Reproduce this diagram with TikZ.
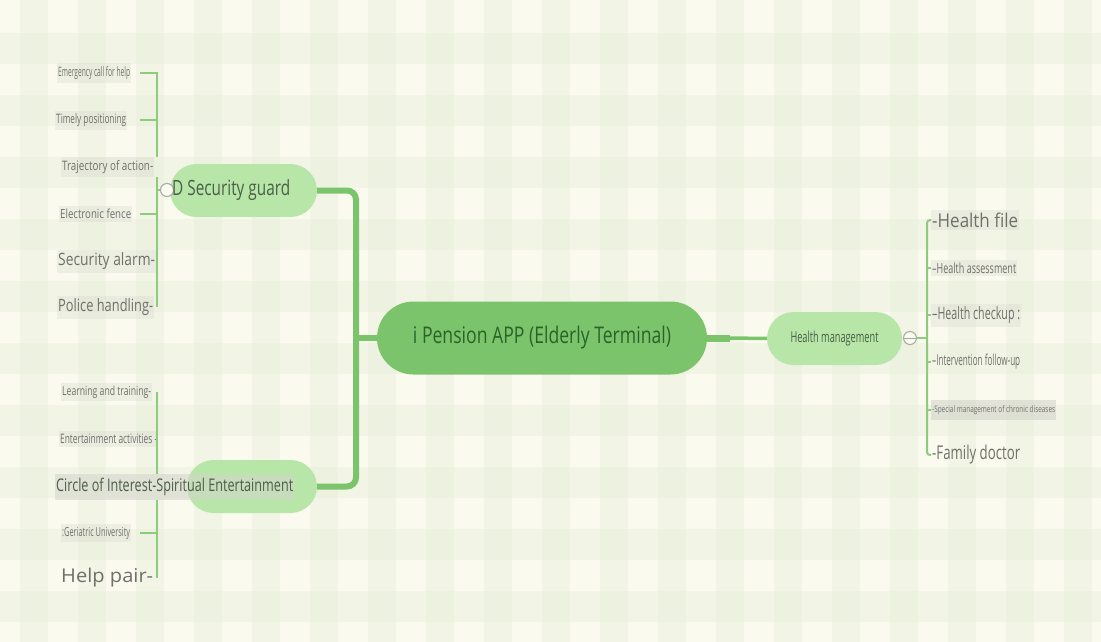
\documentclass[tikz,border=0pt]{standalone}
\usepackage{fontspec}
\usepackage{graphicx}
\setmainfont{Open Sans}
\usetikzlibrary{shapes.misc}
\definecolor{bgcream}{RGB}{250,251,238}
\definecolor{plaidgreen}{RGB}{226,234,210}
\definecolor{ctrgreen}{RGB}{124,196,108}
\definecolor{ctrtext}{RGB}{40,100,40}
\definecolor{pillgreen}{RGB}{184,230,168}
\definecolor{pilltext}{RGB}{75,95,72}
\definecolor{twiggreen}{RGB}{140,204,124}
\definecolor{leafgray}{RGB}{112,112,106}
\definecolor{hlgray}{RGB}{212,212,204}
\newcommand\fitw[2]{\resizebox{#1pt}{\height}{#2}}
\tikzset{
  plaidband/.style={fill=plaidgreen,opacity=.3},
  pill/.style={rounded rectangle,fill=pillgreen,draw=none,minimum height=53pt,inner sep=0pt},
  leaf/.style={anchor=west,inner xsep=1pt,inner ysep=3pt,fill=hlgray,fill opacity=.3,text opacity=1,text=leafgray},
  trunk/.style={draw=ctrgreen,line width=6pt},
  twig/.style={draw=twiggreen,line width=2pt},
  fold/.style={circle,draw=gray!70,line width=1pt,minimum size=13pt,inner sep=0pt,fill=bgcream}
}
\begin{document}
\begin{tikzpicture}[x=1pt,y=-1pt]
\path[use as bounding box,fill=bgcream] (0,0) rectangle (1101,642);
% checked backdrop
\foreach \x in {0,58,...,1100} \fill[plaidband] (\x+20,0) rectangle (\x+48,642);
\foreach \y in {0,62,...,640} \fill[plaidband] (0,\y+33) rectangle (1101,\y+64);
% root
\node[pill,fill=ctrgreen,minimum width=330pt,minimum height=73pt,text=ctrtext,font=\fontsize{23}{26}\selectfont] (ctr) at (542,338) {\fitw{258}{i Pension APP (Elderly Terminal)}};
% main branches
\node[pill,minimum width=147pt] (sec) at (243.5,190.5) {};
\node[pill,minimum width=130pt] (ent) at (252,486.5) {};
\node[pill,minimum width=135pt,text=pilltext,font=\fontsize{15}{17}\selectfont] (hm) at (834.5,338.5) {\fitw{88}{Health management}};
\coordinate (lbus) at (356,338);
\coordinate (knob) at (730,338);
\draw[trunk,rounded corners=9pt] (sec.east) -| (lbus) |- (ent.east);
\draw[trunk] (ctr.west) -- (lbus);
\draw[trunk,line width=7pt] (ctr.east) -- (knob);
\draw[trunk,line width=3.5pt] (knob) -- (hm.west);
% security guard
\node[fold] (secf) at (167,190) {};
\node[anchor=west,inner sep=0pt,text=pilltext,font=\fontsize{21}{24}\selectfont] (sectx) at (172,190) {\fitw{118}{D Security guard}};
\node[leaf,font=\fontsize{13}{15}\selectfont] (emg) at (57,73) {\fitw{72}{Emergency call for help}};
\node[leaf,font=\fontsize{13}{15}\selectfont] (tim) at (55,120) {\fitw{70}{Timely positioning}};
\node[leaf,font=\fontsize{13}{15}\selectfont] (tra) at (61,167) {\fitw{91}{Trajectory of action-}};
\node[leaf,font=\fontsize{12.5}{15}\selectfont] (ele) at (59,214) {\fitw{71}{Electronic fence}};
\node[leaf,font=\fontsize{17}{20}\selectfont] (alm) at (57,261) {\fitw{97}{Security alarm-}};
\node[leaf,font=\fontsize{17}{20}\selectfont] (pol) at (57,307) {\fitw{95}{Police handling-}};
\coordinate (lstub) at (140,0);
\coordinate (sbar) at (157,190);
\draw[twig] (emg.east -| lstub) -| (tra.north -| sbar);
\draw[twig] (tra.south -| sbar) -- (pol.east -| sbar);
\draw[twig] (tim.east -| lstub) -- (tim.east -| sbar);
\draw[twig] (ele.east -| lstub) -- (ele.east -| sbar);
\draw[twig] (sbar) -- (secf.west);
% spiritual entertainment
\node[leaf,font=\fontsize{12.5}{15}\selectfont] (lrn) at (61,392) {\fitw{89}{Learning and training-}};
\node[leaf,font=\fontsize{13}{15}\selectfont] (act) at (59,439) {\fitw{97}{Entertainment activities -}};
\node[leaf,font=\fontsize{17.5}{20}\selectfont,text=pilltext,inner ysep=4pt,fill opacity=.55] (cir) at (55,487) {\fitw{237}{Circle of Interest-Spiritual Entertainment}};
\node[leaf,font=\fontsize{12.5}{15}\selectfont] (ger) at (61,533) {\fitw{68}{:Geriatric University}};
\node[leaf,font=\fontsize{19}{22}\selectfont,fill opacity=0] (hlp) at (60,578) {\fitw{92}{Help pair-}};
\coordinate (ebar) at (157,487);
\draw[twig] (lrn.east -| ebar) -- (cir.north -| ebar);
\draw[twig] (cir.south -| ebar) -- (hlp.east -| ebar);
\draw[twig] (ger.east -| lstub) -- (ger.east -| ebar);
% health management
\node[fold] (hmf) at (910,338) {};
\draw[gray!70,line width=1pt] (hmf.west) -- (hmf.east);
\node[leaf,font=\fontsize{19}{22}\selectfont] (hfl) at (931,220) {\fitw{86}{-Health file}};
\node[leaf,font=\fontsize{14}{17}\selectfont] (has) at (931,268) {\fitw{84}{--Health assessment}};
\node[leaf,font=\fontsize{17}{20}\selectfont] (hck) at (931,315) {\fitw{88}{--Health checkup :}};
\node[leaf,font=\fontsize{15}{18}\selectfont,fill opacity=0] (ivf) at (931,362) {\fitw{88}{--Intervention follow-up}};
\node[leaf,font=\fontsize{9}{11}\selectfont,inner ysep=5pt,fill opacity=.6] (spc) at (931,410) {\fitw{123}{-Special management of chronic diseases}};
\node[leaf,font=\fontsize{19}{22}\selectfont,fill opacity=0] (fdc) at (931,455) {\fitw{88}{-Family doctor}};
\coordinate (rbar) at (927,338);
\draw[twig] (hmf.east) -- (rbar);
\draw[twig,rounded corners=3pt] (hfl.west) -| (rbar) |- (fdc.west);
\draw[twig] (has.west) -- (has.west -| rbar);
\draw[twig] (hck.west) -- (hck.west -| rbar);
\draw[twig] (ivf.west) -- (ivf.west -| rbar);
\draw[twig] (spc.west) -- (spc.west -| rbar);
\end{tikzpicture}
\end{document}
